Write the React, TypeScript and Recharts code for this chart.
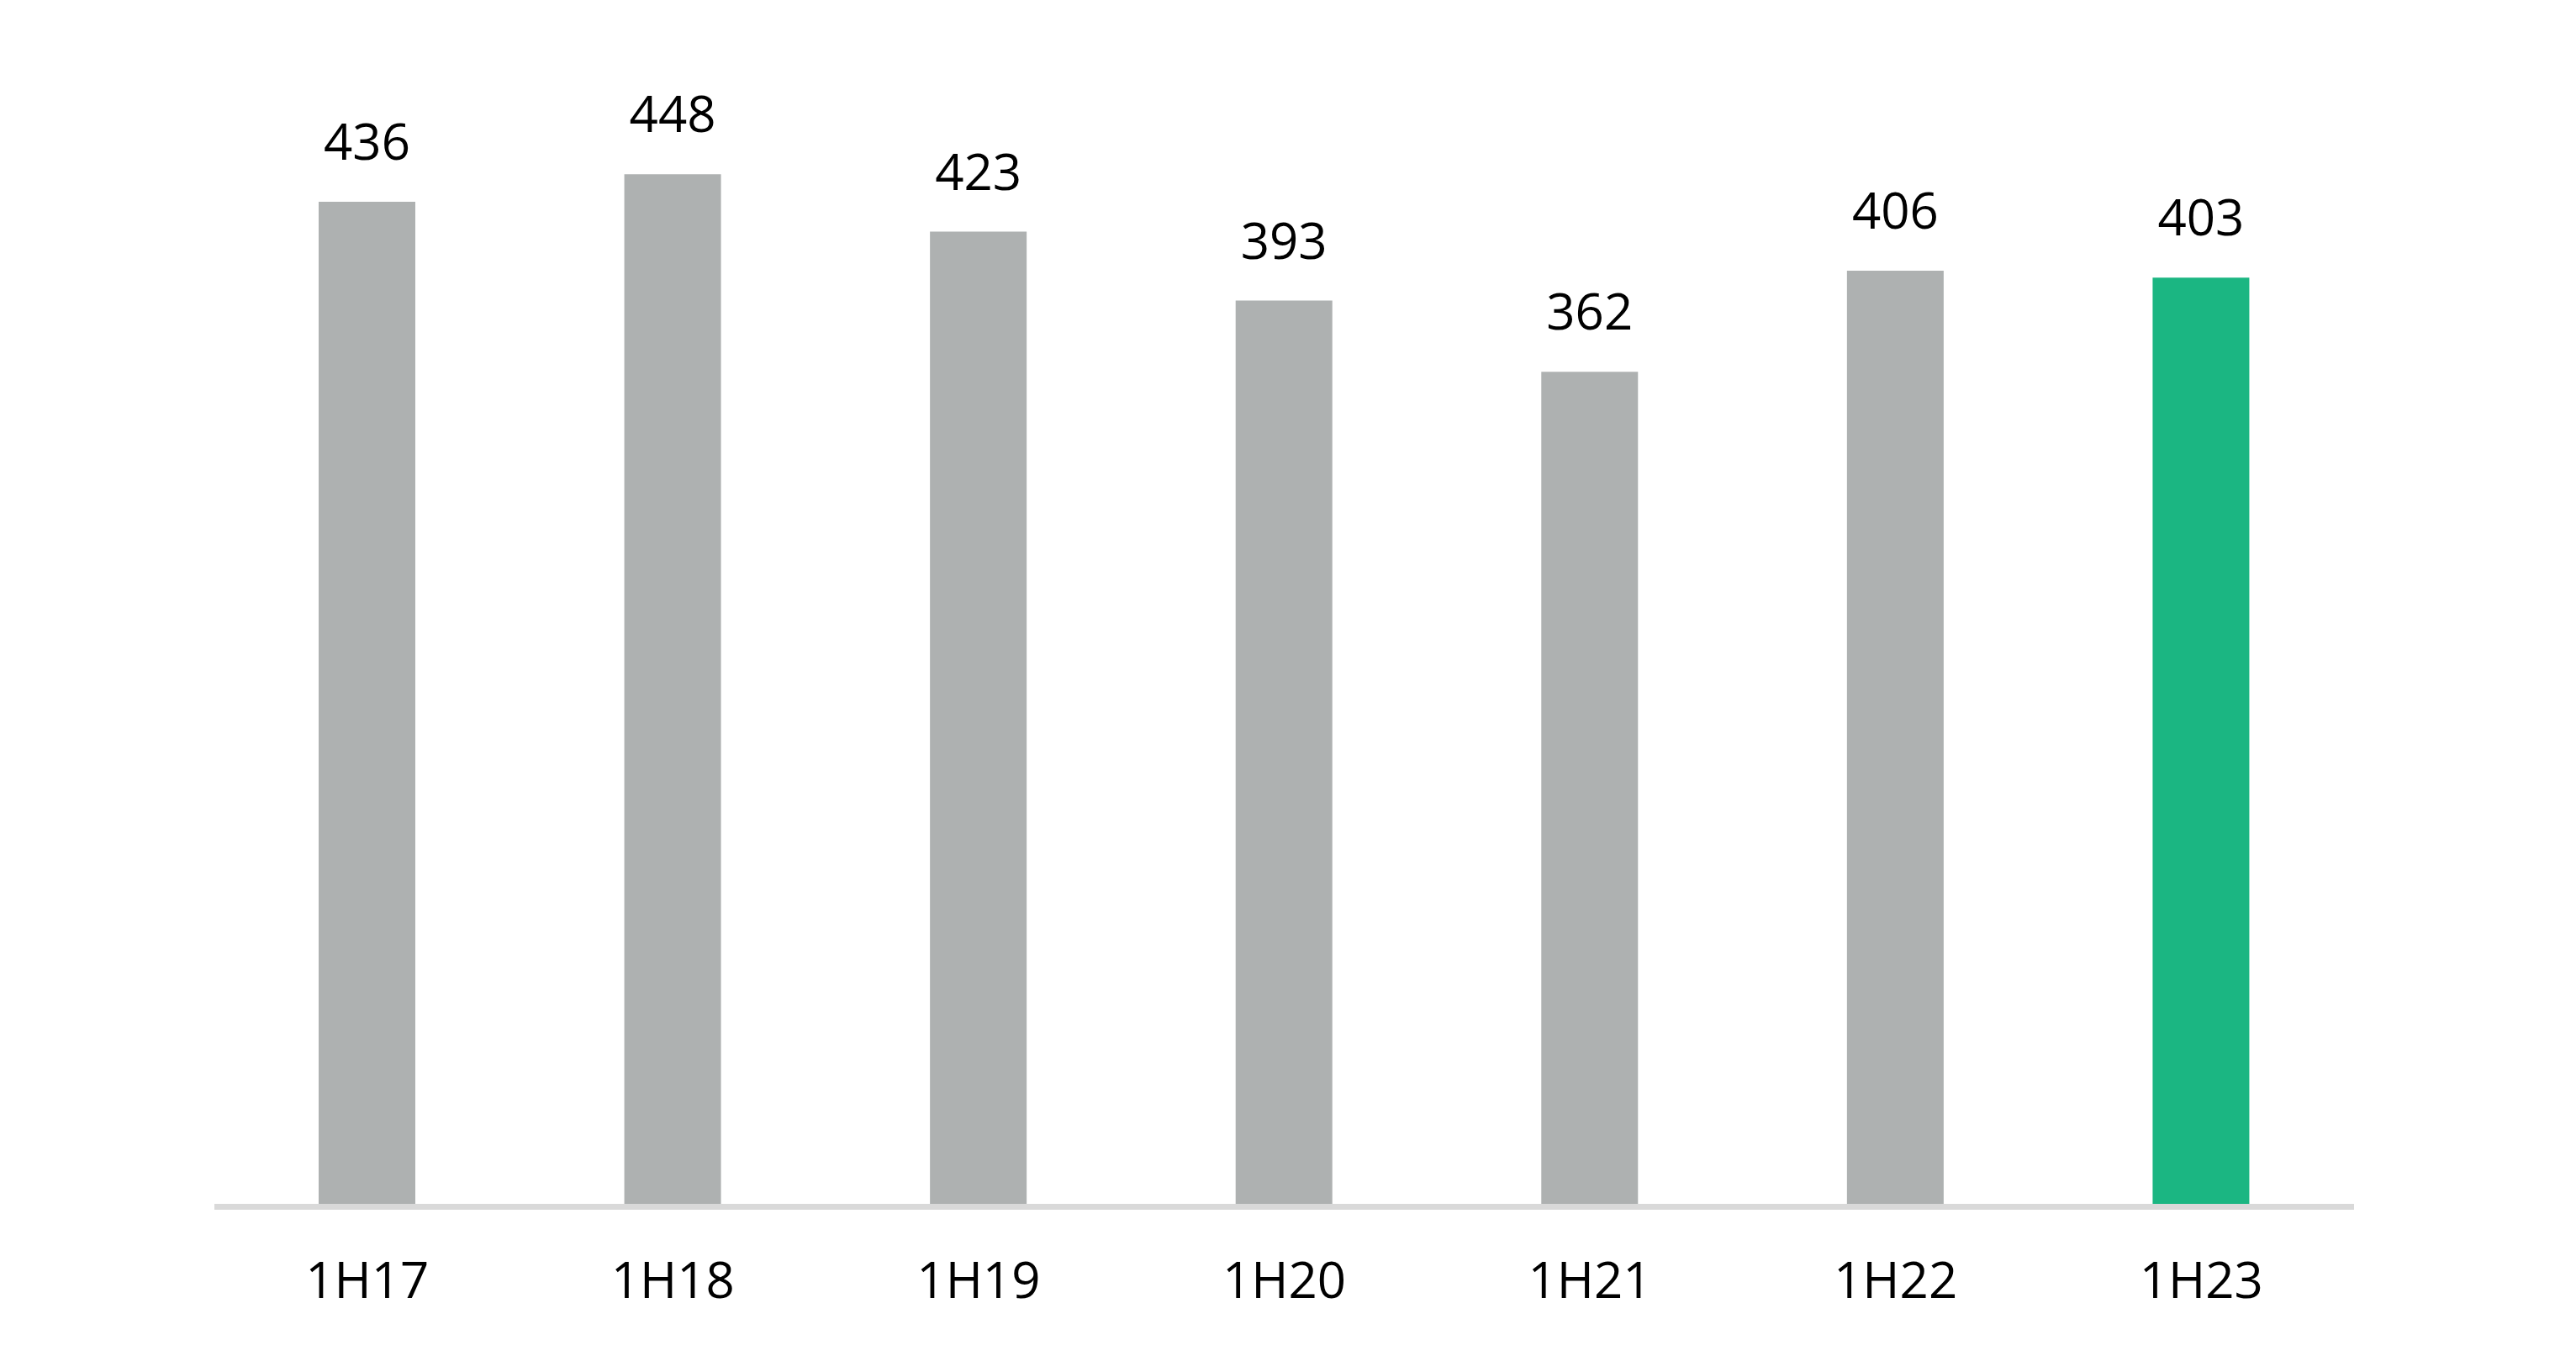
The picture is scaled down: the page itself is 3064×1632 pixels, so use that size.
import React from "react";
import { BarChart, Bar, XAxis, YAxis, Cell, LabelList } from "recharts";

const categories = ["1H17", "1H18", "1H19", "1H20", "1H21", "1H22", "1H23"];
const values = [436, 448, 423, 393, 362, 406, 403];
const barColors = ["#AEB1B1", "#AEB1B1", "#AEB1B1", "#AEB1B1", "#AEB1B1", "#AEB1B1", "#1BB682"];

const data = categories.map((c, i) => ({ name: c, value: values[i] }));

const FONT = "'Open Sans', 'Noto Sans', sans-serif";

export default function App() {
  return (
    <div style={{ width: 3048, height: 1616, background: "#fff" }}>
      <BarChart
        width={3048}
        height={1616}
        data={data}
        margin={{ top: 57, right: 256, bottom: 92, left: 247 }}
      >
        <XAxis
          dataKey="name"
          axisLine={{ stroke: "#D9D9D9", strokeWidth: 7, transform: "translate(0, 3.5)" }}
          tickLine={false}
          tickSize={0}
          tickMargin={69}
          height={100}
          tick={{ fill: "#000", fontSize: 60, fontFamily: FONT }}
        />
        <YAxis hide domain={[0, 500]} />
        <Bar dataKey="value" barSize={115} isAnimationActive={false}>
          {data.map((d, i) => (
            <Cell key={d.name} fill={barColors[i]} />
          ))}
          <LabelList
            dataKey="value"
            position="top"
            offset={50}
            style={{ fill: "#000", fontSize: 60, fontFamily: FONT }}
          />
        </Bar>
      </BarChart>
    </div>
  );
}
